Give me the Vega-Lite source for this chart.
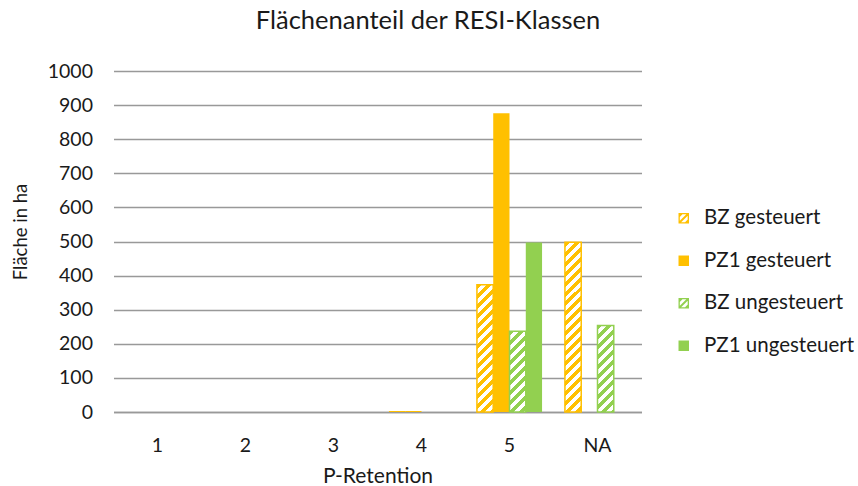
{
  "$schema": "https://vega.github.io/schema/vega-lite/v6.json",
  "width": 528,
  "height": 341,
  "autosize": {"type": "none"},
  "padding": {"left": 113.5, "top": 71, "right": 216.5, "bottom": 74},
  "background": "white",
  "config": {
    "font": "Lato",
    "view": {"stroke": null},
    "axis": {"labelFont": "Lato", "titleFont": "Lato", "labelColor": "#1a1a1a", "titleColor": "#1a1a1a", "titleFontWeight": "normal"}
  },
  "title": {
    "text": "Flächenanteil der RESI-Klassen",
    "fontSize": 25.5,
    "fontWeight": "normal",
    "font": "Lato",
    "color": "#1a1a1a",
    "anchor": "middle",
    "frame": "group",
    "baseline": "alphabetic",
    "dx": 50.5,
    "offset": 7
  },
  "data": {
    "values": [
      {"cat": "1", "series": "BZ gesteuert", "value": 0},
      {"cat": "1", "series": "PZ1 gesteuert", "value": 0},
      {"cat": "1", "series": "BZ ungesteuert", "value": 0},
      {"cat": "1", "series": "PZ1 ungesteuert", "value": 0},
      {"cat": "2", "series": "BZ gesteuert", "value": 0},
      {"cat": "2", "series": "PZ1 gesteuert", "value": 0},
      {"cat": "2", "series": "BZ ungesteuert", "value": 0},
      {"cat": "2", "series": "PZ1 ungesteuert", "value": 0},
      {"cat": "3", "series": "BZ gesteuert", "value": 0},
      {"cat": "3", "series": "PZ1 gesteuert", "value": 0},
      {"cat": "3", "series": "BZ ungesteuert", "value": 0},
      {"cat": "3", "series": "PZ1 ungesteuert", "value": 0},
      {"cat": "4", "series": "BZ gesteuert", "value": 3},
      {"cat": "4", "series": "PZ1 gesteuert", "value": 3},
      {"cat": "4", "series": "BZ ungesteuert", "value": 0},
      {"cat": "4", "series": "PZ1 ungesteuert", "value": 0},
      {"cat": "5", "series": "BZ gesteuert", "value": 373},
      {"cat": "5", "series": "PZ1 gesteuert", "value": 876},
      {"cat": "5", "series": "BZ ungesteuert", "value": 237},
      {"cat": "5", "series": "PZ1 ungesteuert", "value": 497},
      {"cat": "NA", "series": "BZ gesteuert", "value": 498},
      {"cat": "NA", "series": "PZ1 gesteuert", "value": 0},
      {"cat": "NA", "series": "BZ ungesteuert", "value": 254},
      {"cat": "NA", "series": "PZ1 ungesteuert", "value": 0}
    ]
  },
  "encoding": {
    "x": {
      "field": "cat",
      "type": "nominal",
      "scale": {"domain": ["1", "2", "3", "4", "5", "NA"], "paddingInner": 0.26, "paddingOuter": 0.13},
      "axis": {
        "title": "P-Retention",
        "titleFontSize": 21,
        "titleX": 264,
        "titleY": 70,
        "titleBaseline": "alphabetic",
        "labelFontSize": 19.5,
        "labelAngle": 0,
        "labelPadding": 24,
        "labelBaseline": "top",
        "ticks": false,
        "domain": true,
        "domainColor": "#999999",
        "domainWidth": 1.5,
        "grid": false
      }
    },
    "xOffset": {
      "field": "series",
      "type": "nominal",
      "scale": {"domain": ["BZ gesteuert", "PZ1 gesteuert", "BZ ungesteuert", "PZ1 ungesteuert"], "paddingInner": 0, "paddingOuter": 0}
    },
    "y": {
      "field": "value",
      "type": "quantitative",
      "scale": {"domain": [0, 1000], "nice": false},
      "axis": {
        "title": "Fläche in ha",
        "titleFontSize": 18.5,
        "titleAngle": -90,
        "titleX": -93.5,
        "titleY": 160.5,
        "titleAlign": "center",
        "titleBaseline": "middle",
        "values": [0, 100, 200, 300, 400, 500, 600, 700, 800, 900, 1000],
        "format": "d",
        "labelFontSize": 19.5,
        "labelPadding": 21,
        "ticks": false,
        "domain": false,
        "grid": true,
        "gridColor": "#999999",
        "gridWidth": 1.5
      }
    }
  },
  "layer": [
    {
      "mark": {"type": "bar", "strokeWidth": 0},
      "encoding": {
        "color": {
          "field": "series",
          "type": "nominal",
          "scale": {"domain": ["BZ gesteuert", "PZ1 gesteuert", "BZ ungesteuert", "PZ1 ungesteuert"], "range": ["#FFC000", "#FFC000", "#92D050", "#92D050"]},
          "legend": {
            "orient": "none",
            "legendX": 560,
            "legendY": 137,
            "title": null,
            "symbolSize": 110,
            "symbolOpacity": 1,
            "labelFontSize": 20.5,
            "labelFont": "Lato",
            "labelColor": "#1a1a1a",
            "labelOffset": 10,
            "rowPadding": 21.5
          }
        }
      }
    },
    {
      "mark": {"type": "point", "filled": true, "opacity": 0},
      "encoding": {
        "color": {"field": "series", "type": "nominal"},
        "shape": {
          "field": "series",
          "type": "nominal",
          "scale": {
            "domain": ["BZ gesteuert", "PZ1 gesteuert", "BZ ungesteuert", "PZ1 ungesteuert"],
            "range": [
              "M-1,-1H1V1H-1Z M-0.75,-0.75V0.75H0.75V-0.75Z M-0.75,-0.75L-0.25,-0.75L-0.75,-0.25Z M0.5,-0.75L0.75,-0.75L0.75,-0.5L-0.5,0.75L-0.75,0.75L-0.75,0.5Z M0.75,0.25L0.75,0.75L0.25,0.75Z",
              "square",
              "M-1,-1H1V1H-1Z M-0.75,-0.75V0.75H0.75V-0.75Z M-0.75,-0.75L-0.25,-0.75L-0.75,-0.25Z M0.5,-0.75L0.75,-0.75L0.75,-0.5L-0.5,0.75L-0.75,0.75L-0.75,0.5Z M0.75,0.25L0.75,0.75L0.25,0.75Z",
              "square"
            ]
          },
          "legend": {
            "orient": "none",
            "legendX": 560,
            "legendY": 137,
            "title": null,
            "symbolSize": 110,
            "symbolOpacity": 1,
            "labelFontSize": 20.5,
            "labelFont": "Lato",
            "labelColor": "#1a1a1a",
            "labelOffset": 10,
            "rowPadding": 21.5
          }
        }
      }
    },
    {
      "transform": [{"filter": "datum.series === 'BZ gesteuert' && datum.cat === '5'"}],
      "mark": {
        "type": "bar",
        "stroke": "#FFC000",
        "strokeWidth": 1.5,
        "fill": {"gradient": "linear", "x1": 0, "y1": 0, "x2": 0.18745, "y2": 1.4662, "stops": [
          {"offset": 0, "color": "#FFC000"}, {"offset": 0.0263, "color": "#FFC000"}, {"offset": 0.0263, "color": "#FFFFFF"}, {"offset": 0.0526, "color": "#FFFFFF"},
          {"offset": 0.0526, "color": "#FFC000"}, {"offset": 0.0789, "color": "#FFC000"}, {"offset": 0.0789, "color": "#FFFFFF"}, {"offset": 0.1053, "color": "#FFFFFF"},
          {"offset": 0.1053, "color": "#FFC000"}, {"offset": 0.1316, "color": "#FFC000"}, {"offset": 0.1316, "color": "#FFFFFF"}, {"offset": 0.1579, "color": "#FFFFFF"},
          {"offset": 0.1579, "color": "#FFC000"}, {"offset": 0.1842, "color": "#FFC000"}, {"offset": 0.1842, "color": "#FFFFFF"}, {"offset": 0.2105, "color": "#FFFFFF"},
          {"offset": 0.2105, "color": "#FFC000"}, {"offset": 0.2368, "color": "#FFC000"}, {"offset": 0.2368, "color": "#FFFFFF"}, {"offset": 0.2632, "color": "#FFFFFF"},
          {"offset": 0.2632, "color": "#FFC000"}, {"offset": 0.2895, "color": "#FFC000"}, {"offset": 0.2895, "color": "#FFFFFF"}, {"offset": 0.3158, "color": "#FFFFFF"},
          {"offset": 0.3158, "color": "#FFC000"}, {"offset": 0.3421, "color": "#FFC000"}, {"offset": 0.3421, "color": "#FFFFFF"}, {"offset": 0.3684, "color": "#FFFFFF"},
          {"offset": 0.3684, "color": "#FFC000"}, {"offset": 0.3947, "color": "#FFC000"}, {"offset": 0.3947, "color": "#FFFFFF"}, {"offset": 0.4211, "color": "#FFFFFF"},
          {"offset": 0.4211, "color": "#FFC000"}, {"offset": 0.4474, "color": "#FFC000"}, {"offset": 0.4474, "color": "#FFFFFF"}, {"offset": 0.4737, "color": "#FFFFFF"},
          {"offset": 0.4737, "color": "#FFC000"}, {"offset": 0.5, "color": "#FFC000"}, {"offset": 0.5, "color": "#FFFFFF"}, {"offset": 0.5263, "color": "#FFFFFF"},
          {"offset": 0.5263, "color": "#FFC000"}, {"offset": 0.5526, "color": "#FFC000"}, {"offset": 0.5526, "color": "#FFFFFF"}, {"offset": 0.5789, "color": "#FFFFFF"},
          {"offset": 0.5789, "color": "#FFC000"}, {"offset": 0.6053, "color": "#FFC000"}, {"offset": 0.6053, "color": "#FFFFFF"}, {"offset": 0.6316, "color": "#FFFFFF"},
          {"offset": 0.6316, "color": "#FFC000"}, {"offset": 0.6579, "color": "#FFC000"}, {"offset": 0.6579, "color": "#FFFFFF"}, {"offset": 0.6842, "color": "#FFFFFF"},
          {"offset": 0.6842, "color": "#FFC000"}, {"offset": 0.7105, "color": "#FFC000"}, {"offset": 0.7105, "color": "#FFFFFF"}, {"offset": 0.7368, "color": "#FFFFFF"},
          {"offset": 0.7368, "color": "#FFC000"}, {"offset": 0.7632, "color": "#FFC000"}, {"offset": 0.7632, "color": "#FFFFFF"}, {"offset": 0.7895, "color": "#FFFFFF"},
          {"offset": 0.7895, "color": "#FFC000"}, {"offset": 0.8158, "color": "#FFC000"}, {"offset": 0.8158, "color": "#FFFFFF"}, {"offset": 0.8421, "color": "#FFFFFF"},
          {"offset": 0.8421, "color": "#FFC000"}, {"offset": 0.8684, "color": "#FFC000"}, {"offset": 0.8684, "color": "#FFFFFF"}, {"offset": 0.8947, "color": "#FFFFFF"},
          {"offset": 0.8947, "color": "#FFC000"}, {"offset": 0.9211, "color": "#FFC000"}, {"offset": 0.9211, "color": "#FFFFFF"}, {"offset": 0.9474, "color": "#FFFFFF"},
          {"offset": 0.9474, "color": "#FFC000"}, {"offset": 0.9737, "color": "#FFC000"}, {"offset": 0.9737, "color": "#FFFFFF"}, {"offset": 1, "color": "#FFFFFF"}
        ]}
      }
    },
    {
      "transform": [{"filter": "datum.series === 'BZ gesteuert' && datum.cat === 'NA'"}],
      "mark": {
        "type": "bar",
        "stroke": "#FFC000",
        "strokeWidth": 1.5,
        "fill": {"gradient": "linear", "x1": 0, "y1": 0, "x2": 0.10594, "y2": 1.1062, "stops": [
          {"offset": 0, "color": "#FFC000"}, {"offset": 0.0263, "color": "#FFC000"}, {"offset": 0.0263, "color": "#FFFFFF"}, {"offset": 0.0526, "color": "#FFFFFF"},
          {"offset": 0.0526, "color": "#FFC000"}, {"offset": 0.0789, "color": "#FFC000"}, {"offset": 0.0789, "color": "#FFFFFF"}, {"offset": 0.1053, "color": "#FFFFFF"},
          {"offset": 0.1053, "color": "#FFC000"}, {"offset": 0.1316, "color": "#FFC000"}, {"offset": 0.1316, "color": "#FFFFFF"}, {"offset": 0.1579, "color": "#FFFFFF"},
          {"offset": 0.1579, "color": "#FFC000"}, {"offset": 0.1842, "color": "#FFC000"}, {"offset": 0.1842, "color": "#FFFFFF"}, {"offset": 0.2105, "color": "#FFFFFF"},
          {"offset": 0.2105, "color": "#FFC000"}, {"offset": 0.2368, "color": "#FFC000"}, {"offset": 0.2368, "color": "#FFFFFF"}, {"offset": 0.2632, "color": "#FFFFFF"},
          {"offset": 0.2632, "color": "#FFC000"}, {"offset": 0.2895, "color": "#FFC000"}, {"offset": 0.2895, "color": "#FFFFFF"}, {"offset": 0.3158, "color": "#FFFFFF"},
          {"offset": 0.3158, "color": "#FFC000"}, {"offset": 0.3421, "color": "#FFC000"}, {"offset": 0.3421, "color": "#FFFFFF"}, {"offset": 0.3684, "color": "#FFFFFF"},
          {"offset": 0.3684, "color": "#FFC000"}, {"offset": 0.3947, "color": "#FFC000"}, {"offset": 0.3947, "color": "#FFFFFF"}, {"offset": 0.4211, "color": "#FFFFFF"},
          {"offset": 0.4211, "color": "#FFC000"}, {"offset": 0.4474, "color": "#FFC000"}, {"offset": 0.4474, "color": "#FFFFFF"}, {"offset": 0.4737, "color": "#FFFFFF"},
          {"offset": 0.4737, "color": "#FFC000"}, {"offset": 0.5, "color": "#FFC000"}, {"offset": 0.5, "color": "#FFFFFF"}, {"offset": 0.5263, "color": "#FFFFFF"},
          {"offset": 0.5263, "color": "#FFC000"}, {"offset": 0.5526, "color": "#FFC000"}, {"offset": 0.5526, "color": "#FFFFFF"}, {"offset": 0.5789, "color": "#FFFFFF"},
          {"offset": 0.5789, "color": "#FFC000"}, {"offset": 0.6053, "color": "#FFC000"}, {"offset": 0.6053, "color": "#FFFFFF"}, {"offset": 0.6316, "color": "#FFFFFF"},
          {"offset": 0.6316, "color": "#FFC000"}, {"offset": 0.6579, "color": "#FFC000"}, {"offset": 0.6579, "color": "#FFFFFF"}, {"offset": 0.6842, "color": "#FFFFFF"},
          {"offset": 0.6842, "color": "#FFC000"}, {"offset": 0.7105, "color": "#FFC000"}, {"offset": 0.7105, "color": "#FFFFFF"}, {"offset": 0.7368, "color": "#FFFFFF"},
          {"offset": 0.7368, "color": "#FFC000"}, {"offset": 0.7632, "color": "#FFC000"}, {"offset": 0.7632, "color": "#FFFFFF"}, {"offset": 0.7895, "color": "#FFFFFF"},
          {"offset": 0.7895, "color": "#FFC000"}, {"offset": 0.8158, "color": "#FFC000"}, {"offset": 0.8158, "color": "#FFFFFF"}, {"offset": 0.8421, "color": "#FFFFFF"},
          {"offset": 0.8421, "color": "#FFC000"}, {"offset": 0.8684, "color": "#FFC000"}, {"offset": 0.8684, "color": "#FFFFFF"}, {"offset": 0.8947, "color": "#FFFFFF"},
          {"offset": 0.8947, "color": "#FFC000"}, {"offset": 0.9211, "color": "#FFC000"}, {"offset": 0.9211, "color": "#FFFFFF"}, {"offset": 0.9474, "color": "#FFFFFF"},
          {"offset": 0.9474, "color": "#FFC000"}, {"offset": 0.9737, "color": "#FFC000"}, {"offset": 0.9737, "color": "#FFFFFF"}, {"offset": 1, "color": "#FFFFFF"}
        ]}
      }
    },
    {
      "transform": [{"filter": "datum.series === 'BZ ungesteuert' && datum.cat === '5'"}],
      "mark": {
        "type": "bar",
        "stroke": "#92D050",
        "strokeWidth": 1.5,
        "fill": {"gradient": "linear", "x1": 0, "y1": 0, "x2": 0.45153, "y2": 2.2495, "stops": [
          {"offset": 0, "color": "#92D050"}, {"offset": 0.0263, "color": "#92D050"}, {"offset": 0.0263, "color": "#FFFFFF"}, {"offset": 0.0526, "color": "#FFFFFF"},
          {"offset": 0.0526, "color": "#92D050"}, {"offset": 0.0789, "color": "#92D050"}, {"offset": 0.0789, "color": "#FFFFFF"}, {"offset": 0.1053, "color": "#FFFFFF"},
          {"offset": 0.1053, "color": "#92D050"}, {"offset": 0.1316, "color": "#92D050"}, {"offset": 0.1316, "color": "#FFFFFF"}, {"offset": 0.1579, "color": "#FFFFFF"},
          {"offset": 0.1579, "color": "#92D050"}, {"offset": 0.1842, "color": "#92D050"}, {"offset": 0.1842, "color": "#FFFFFF"}, {"offset": 0.2105, "color": "#FFFFFF"},
          {"offset": 0.2105, "color": "#92D050"}, {"offset": 0.2368, "color": "#92D050"}, {"offset": 0.2368, "color": "#FFFFFF"}, {"offset": 0.2632, "color": "#FFFFFF"},
          {"offset": 0.2632, "color": "#92D050"}, {"offset": 0.2895, "color": "#92D050"}, {"offset": 0.2895, "color": "#FFFFFF"}, {"offset": 0.3158, "color": "#FFFFFF"},
          {"offset": 0.3158, "color": "#92D050"}, {"offset": 0.3421, "color": "#92D050"}, {"offset": 0.3421, "color": "#FFFFFF"}, {"offset": 0.3684, "color": "#FFFFFF"},
          {"offset": 0.3684, "color": "#92D050"}, {"offset": 0.3947, "color": "#92D050"}, {"offset": 0.3947, "color": "#FFFFFF"}, {"offset": 0.4211, "color": "#FFFFFF"},
          {"offset": 0.4211, "color": "#92D050"}, {"offset": 0.4474, "color": "#92D050"}, {"offset": 0.4474, "color": "#FFFFFF"}, {"offset": 0.4737, "color": "#FFFFFF"},
          {"offset": 0.4737, "color": "#92D050"}, {"offset": 0.5, "color": "#92D050"}, {"offset": 0.5, "color": "#FFFFFF"}, {"offset": 0.5263, "color": "#FFFFFF"},
          {"offset": 0.5263, "color": "#92D050"}, {"offset": 0.5526, "color": "#92D050"}, {"offset": 0.5526, "color": "#FFFFFF"}, {"offset": 0.5789, "color": "#FFFFFF"},
          {"offset": 0.5789, "color": "#92D050"}, {"offset": 0.6053, "color": "#92D050"}, {"offset": 0.6053, "color": "#FFFFFF"}, {"offset": 0.6316, "color": "#FFFFFF"}
        ]}
      }
    },
    {
      "transform": [{"filter": "datum.series === 'BZ ungesteuert' && datum.cat === 'NA'"}],
      "mark": {
        "type": "bar",
        "stroke": "#92D050",
        "strokeWidth": 1.5,
        "fill": {"gradient": "linear", "x1": 0, "y1": 0, "x2": 0.39528, "y2": 2.1097, "stops": [
          {"offset": 0, "color": "#92D050"}, {"offset": 0.0263, "color": "#92D050"}, {"offset": 0.0263, "color": "#FFFFFF"}, {"offset": 0.0526, "color": "#FFFFFF"},
          {"offset": 0.0526, "color": "#92D050"}, {"offset": 0.0789, "color": "#92D050"}, {"offset": 0.0789, "color": "#FFFFFF"}, {"offset": 0.1053, "color": "#FFFFFF"},
          {"offset": 0.1053, "color": "#92D050"}, {"offset": 0.1316, "color": "#92D050"}, {"offset": 0.1316, "color": "#FFFFFF"}, {"offset": 0.1579, "color": "#FFFFFF"},
          {"offset": 0.1579, "color": "#92D050"}, {"offset": 0.1842, "color": "#92D050"}, {"offset": 0.1842, "color": "#FFFFFF"}, {"offset": 0.2105, "color": "#FFFFFF"},
          {"offset": 0.2105, "color": "#92D050"}, {"offset": 0.2368, "color": "#92D050"}, {"offset": 0.2368, "color": "#FFFFFF"}, {"offset": 0.2632, "color": "#FFFFFF"},
          {"offset": 0.2632, "color": "#92D050"}, {"offset": 0.2895, "color": "#92D050"}, {"offset": 0.2895, "color": "#FFFFFF"}, {"offset": 0.3158, "color": "#FFFFFF"},
          {"offset": 0.3158, "color": "#92D050"}, {"offset": 0.3421, "color": "#92D050"}, {"offset": 0.3421, "color": "#FFFFFF"}, {"offset": 0.3684, "color": "#FFFFFF"},
          {"offset": 0.3684, "color": "#92D050"}, {"offset": 0.3947, "color": "#92D050"}, {"offset": 0.3947, "color": "#FFFFFF"}, {"offset": 0.4211, "color": "#FFFFFF"},
          {"offset": 0.4211, "color": "#92D050"}, {"offset": 0.4474, "color": "#92D050"}, {"offset": 0.4474, "color": "#FFFFFF"}, {"offset": 0.4737, "color": "#FFFFFF"},
          {"offset": 0.4737, "color": "#92D050"}, {"offset": 0.5, "color": "#92D050"}, {"offset": 0.5, "color": "#FFFFFF"}, {"offset": 0.5263, "color": "#FFFFFF"},
          {"offset": 0.5263, "color": "#92D050"}, {"offset": 0.5526, "color": "#92D050"}, {"offset": 0.5526, "color": "#FFFFFF"}, {"offset": 0.5789, "color": "#FFFFFF"},
          {"offset": 0.5789, "color": "#92D050"}, {"offset": 0.6053, "color": "#92D050"}, {"offset": 0.6053, "color": "#FFFFFF"}, {"offset": 0.6316, "color": "#FFFFFF"}
        ]}
      }
    }
  ]
}
